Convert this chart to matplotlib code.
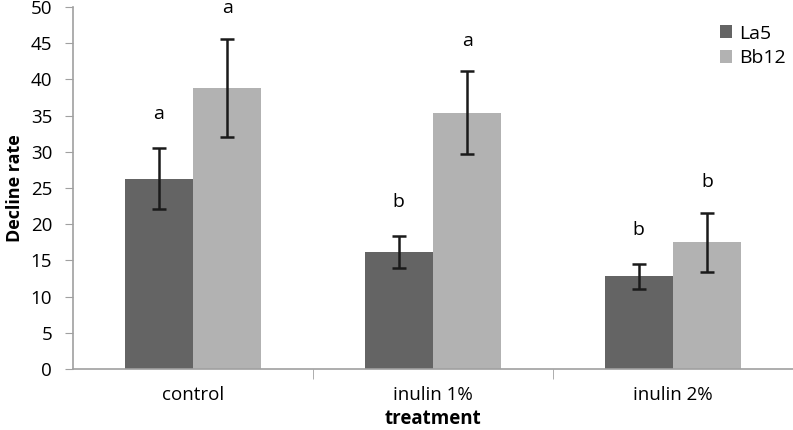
import matplotlib
matplotlib.use("Agg")
import matplotlib.pyplot as plt
import numpy as np

categories = ["control", "inulin 1%", "inulin 2%"]
la5 = [26.3, 16.2, 12.8]
la5_err = [4.2, 2.2, 1.7]
bb12 = [38.8, 35.4, 17.5]
bb12_err = [6.8, 5.7, 4.1]
la5_letters = ["a", "b", "b"]
bb12_letters = ["a", "a", "b"]

plt.rcParams['font.family'] = ['Open Sans', 'DejaVu Sans']

fig = plt.figure(figsize=(7.93, 4.30), dpi=100)
ax = fig.add_axes([73/793, 61/430, 720/793, 362/430])

x = np.arange(len(categories))
w = 0.285
c1, c2 = "#646464", "#b2b2b2"
ax.bar(x - w/2, la5, w, color=c1, label="La5")
ax.bar(x + w/2, bb12, w, color=c2, label="Bb12")
ekw = dict(fmt="none", ecolor="#1a1a1a", elinewidth=1.8, capsize=5, capthick=1.8)
ax.errorbar(x - w/2, la5, yerr=la5_err, **ekw)
ax.errorbar(x + w/2, bb12, yerr=bb12_err, **ekw)

for i in range(len(categories)):
    ax.text(x[i] - w/2, la5[i] + la5_err[i] + 4.7, la5_letters[i], ha="center", va="center",
            fontsize=14, clip_on=False)
    ax.text(x[i] + w/2, bb12[i] + bb12_err[i] + 4.2, bb12_letters[i], ha="center", va="center",
            fontsize=14, clip_on=False)

ax.set_xlim(-0.5, 2.5)
ax.set_ylim(0, 50)
ax.set_yticks(np.arange(0, 51, 5))
ax.set_xticks(x)
ax.set_xticklabels(categories)
ax.set_xticks([0.5, 1.5, 2.5], minor=True)
ax.tick_params(axis="x", which="major", length=0, labelsize=13.5, pad=12)
ax.tick_params(axis="x", which="minor", length=7, color="#a0a0a0")
ax.tick_params(axis="y", length=6, color="#a0a0a0", labelsize=13.5, pad=9)
for s in ["top", "right"]:
    ax.spines[s].set_visible(False)
for s in ["left", "bottom"]:
    ax.spines[s].set_color("#a0a0a0")
    ax.spines[s].set_linewidth(1.2)

ax.set_ylabel("Decline rate", fontsize=13, fontweight="bold", labelpad=5)
ax.set_xlabel("treatment", fontsize=13.5, fontweight="bold", labelpad=4)

leg = ax.legend(loc="upper right", bbox_to_anchor=(1.015, 1.0), frameon=False, fontsize=14,
                handlelength=0.6, handleheight=0.6, handletextpad=0.4, labelspacing=0.35)

fig.savefig("out.png", dpi=100)
